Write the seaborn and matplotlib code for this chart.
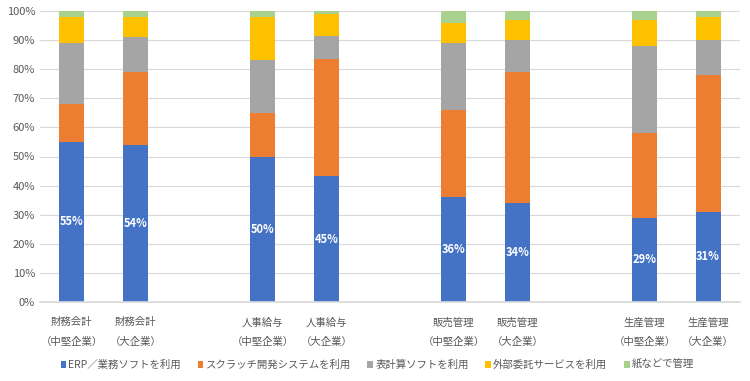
import numpy as np
import matplotlib
matplotlib.use('Agg')
import matplotlib.pyplot as plt
import seaborn as sns
from matplotlib.patches import Patch
from matplotlib.ticker import PercentFormatter

# --- データ ---
categories = ['財務会計\n（中堅企業）', '財務会計\n（大企業）',
              '人事給与\n（中堅企業）', '人事給与\n（大企業）',
              '販売管理\n（中堅企業）', '販売管理\n（大企業）',
              '生産管理\n（中堅企業）', '生産管理\n（大企業）']
series_names = ['ERP／業務ソフトを利用', 'スクラッチ開発システムを利用', '表計算ソフトを利用',
                '外部委託サービスを利用', '紙などで管理']
erp = [55, 54, 50, 45, 36, 34, 29, 31]
scratch = [13, 25, 15, 42, 30, 45, 29, 47]
spreadsheet = [21, 12, 18, 8, 23, 11, 30, 12]
outsource = [9, 7, 15, 8, 7, 7, 9, 8]
paper = [2, 2, 2, 1, 4, 3, 3, 2]
erp_labels = ['55%', '54%', '50%', '45%', '36%', '34%', '29%', '31%']
# -----------------

colors = ['#4472C4', '#ED7D31', '#A5A5A5', '#FFC000', '#A9D18E']
positions = np.array([0, 1, 3, 4, 6, 7, 9, 10])  # グループ間に空きを入れる

sns.set_theme(style='white')
plt.rcParams['font.family'] = ['Noto Sans CJK JP', 'DejaVu Sans']

raw = np.array([erp, scratch, spreadsheet, outsource, paper], dtype=float)
share = raw / raw.sum(axis=0) * 100
cum = np.cumsum(share, axis=0)

fig = plt.figure(figsize=(7.5, 3.81), dpi=100)
ax = fig.add_axes([40 / 750, 1 - 302 / 381, 700 / 750, 291 / 381])

# 上から順に累積値を重ねて描く（100%積み上げ）
for i in range(len(series_names) - 1, -1, -1):
    sns.barplot(x=positions, y=cum[i], color=colors[i], native_scale=True,
                width=0.39, saturation=1, linewidth=0, ax=ax)

for p, h, lab in zip(positions, share[0], erp_labels):
    ax.text(p, h / 2, lab, ha='center', va='center', color='white',
            fontsize=8, fontweight='bold')

ax.set_xlim(-0.5, 10.5)
ax.set_ylim(0, 100)
ax.set_yticks(np.arange(0, 101, 10))
ax.yaxis.set_major_formatter(PercentFormatter(decimals=0))
ax.set_xticks(positions)
ax.set_xticklabels(categories, linespacing=2.15)
ax.tick_params(axis='both', length=0, labelsize=8, colors='#595959')
ax.tick_params(axis='x', pad=11, labelsize=7.5)
ax.set_xlabel('')
ax.set_ylabel('')
ax.grid(axis='y', color='#D9D9D9', linewidth=0.8)
ax.set_axisbelow(True)
for s in ['top', 'right', 'left']:
    ax.spines[s].set_visible(False)
ax.spines['bottom'].set_color('#D9D9D9')

handles = [Patch(facecolor=c, edgecolor='none') for c in colors]
fig.legend(handles, series_names, loc='center', bbox_to_anchor=(0.503, 1 - 365 / 381),
           ncol=5, frameon=False, fontsize=7.5, handlelength=0.55, handleheight=0.55,
           handletextpad=0.2, columnspacing=1.6, labelcolor='#595959')

plt.savefig('out.png', dpi=100)
